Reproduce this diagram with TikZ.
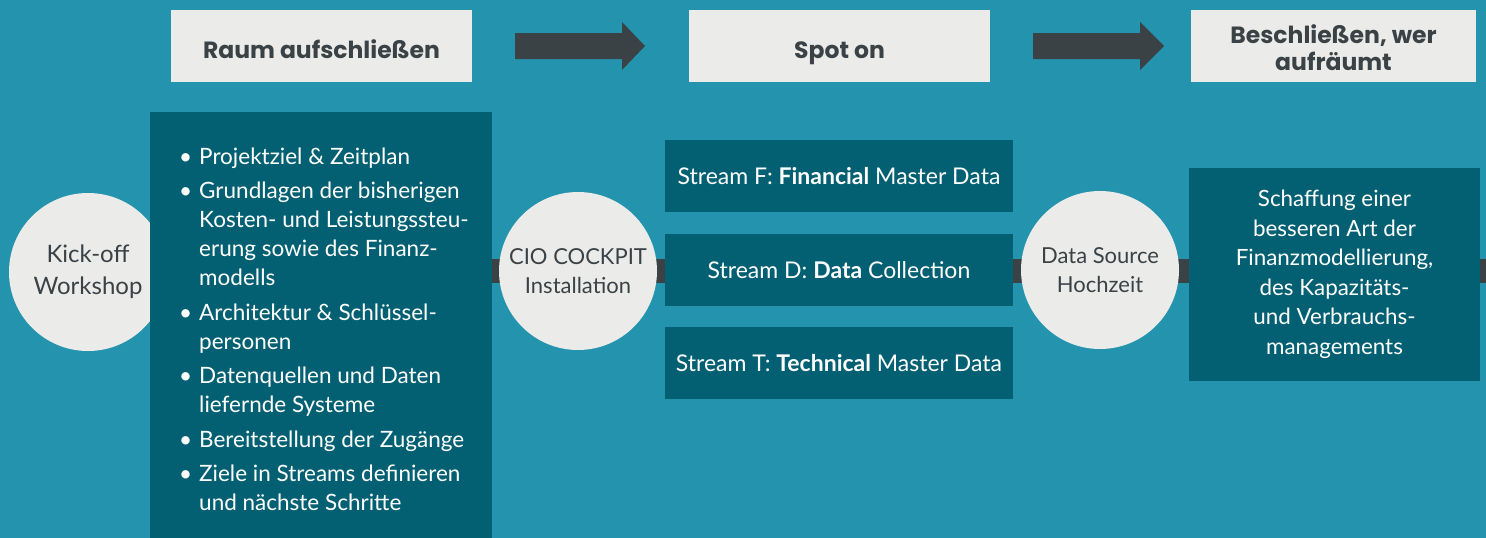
\documentclass[tikz,border=0pt]{standalone}
\usepackage{fontspec}
\setmainfont{Lato}
\newfontfamily\headfont{Poppins}
\definecolor{bgteal}{HTML}{2494AE}
\definecolor{darkteal}{HTML}{036072}
\definecolor{lightgray}{HTML}{EBEBE9}
\definecolor{ink}{HTML}{3A4246}
\tikzset{
  headbox/.style={fill=lightgray, minimum height=72pt, inner sep=0pt},
  headtext/.style={inner sep=0pt, text=ink,
    font=\headfont\bfseries\fontsize{23.5}{27}\selectfont, align=center},
  darkbox/.style={fill=darkteal, inner sep=0pt, text=white},
  streambox/.style={darkbox, minimum width=348pt, minimum height=72pt,
    font=\fontsize{23}{27}\selectfont},
  circ/.style={circle, fill=lightgray, minimum size=158pt, inner sep=0pt, text=ink,
    font=\fontsize{22}{29}\selectfont, align=center},
  bigcirc/.style={circ, font=\fontsize{24}{32}\selectfont},
  bar/.style={draw=ink, line width=24pt},
  blockarrow/.style={fill=ink}
}
\newcommand{\bitem}{\hangindent=17pt\hangafter=1\makebox[17pt][l]{\hspace{-3pt}•}}
\begin{document}
\begin{tikzpicture}[x=1pt,y=-1pt]
\fill[bgteal] (0,0) rectangle (1486,538);
\useasboundingbox (0,0) rectangle (1486,538);
% header row
\node[headbox, minimum width=301pt] (h1) at (321.5,46) {};
\node[headbox, minimum width=301pt] (h2) at (839.5,46) {};
\node[headbox, minimum width=285pt] (h3) at (1333.5,46) {};
\node[headtext, anchor=base] (h1t) at (321.5,58) {Raum aufschließen};
\node[headtext, anchor=base] (h2t) at (839.5,58) {Spot on};
\node[headtext] (h3t) at (1333.5,47.5) {Beschließen, wer\\aufräumt};
\fill[blockarrow] (515,33) -- (622,33) -- (622,22) -- (645,46) -- (622,70) -- (622,59) -- (515,59) -- cycle;
\fill[blockarrow] (1033,33) -- (1140,33) -- (1140,22) -- (1164,46) -- (1140,70) -- (1140,59) -- (1033,59) -- cycle;
% main row
\coordinate (k1c) at (88,271);
\coordinate (rightend) at (1486,271);
\draw[bar] (k1c) -- (rightend);
\node[bigcirc] (k1) at (88,272) {Kick-off\\Workshop};
\node[darkbox, anchor=north west, minimum width=342pt, minimum height=426pt] (b1) at (150,112) {};
\node[anchor=base west, inner sep=0pt, text=white, font=\fontsize{22.5}{29}\selectfont] (list) at (182,164)
{\parbox[t]{305pt}{\raggedright\baselineskip=29pt\parskip=5.5pt
\bitem Projektziel \& Zeitplan\par
\bitem Grundlagen der bisherigen\newline Kosten- und Leistungssteu-\newline erung sowie des Finanz-\newline modells\par
\bitem Architektur \& Schlüssel-\newline personen\par
\bitem Datenquellen und Daten\newline liefernde Systeme\par
\bitem Bereitstellung der Zugänge\par
\bitem Ziele in Streams definieren\newline und nächste Schritte\par}};
\node[circ] (c2) at (578,271) {CIO COCKPIT\\Installation};
\node[streambox] (sf) at (839,176) {Stream F: \textbf{Financial} Master Data};
\node[streambox] (sd) at (839,270) {Stream D: \textbf{Data} Collection};
\node[streambox] (st) at (839,363) {Stream T: \textbf{Technical} Master Data};
\node[circ] (c3) at (1100,270) {Data Source\\Hochzeit};
\node[darkbox, minimum width=291pt, minimum height=213pt, align=center,
  font=\fontsize{22.4}{29.5}\selectfont] (fin) at (1334.5,274.5)
  {Schaffung einer\\besseren Art der\\Finanzmodellierung,\\des Kapazitäts-\\und Verbrauchs-\\managements};
\end{tikzpicture}
\end{document}
